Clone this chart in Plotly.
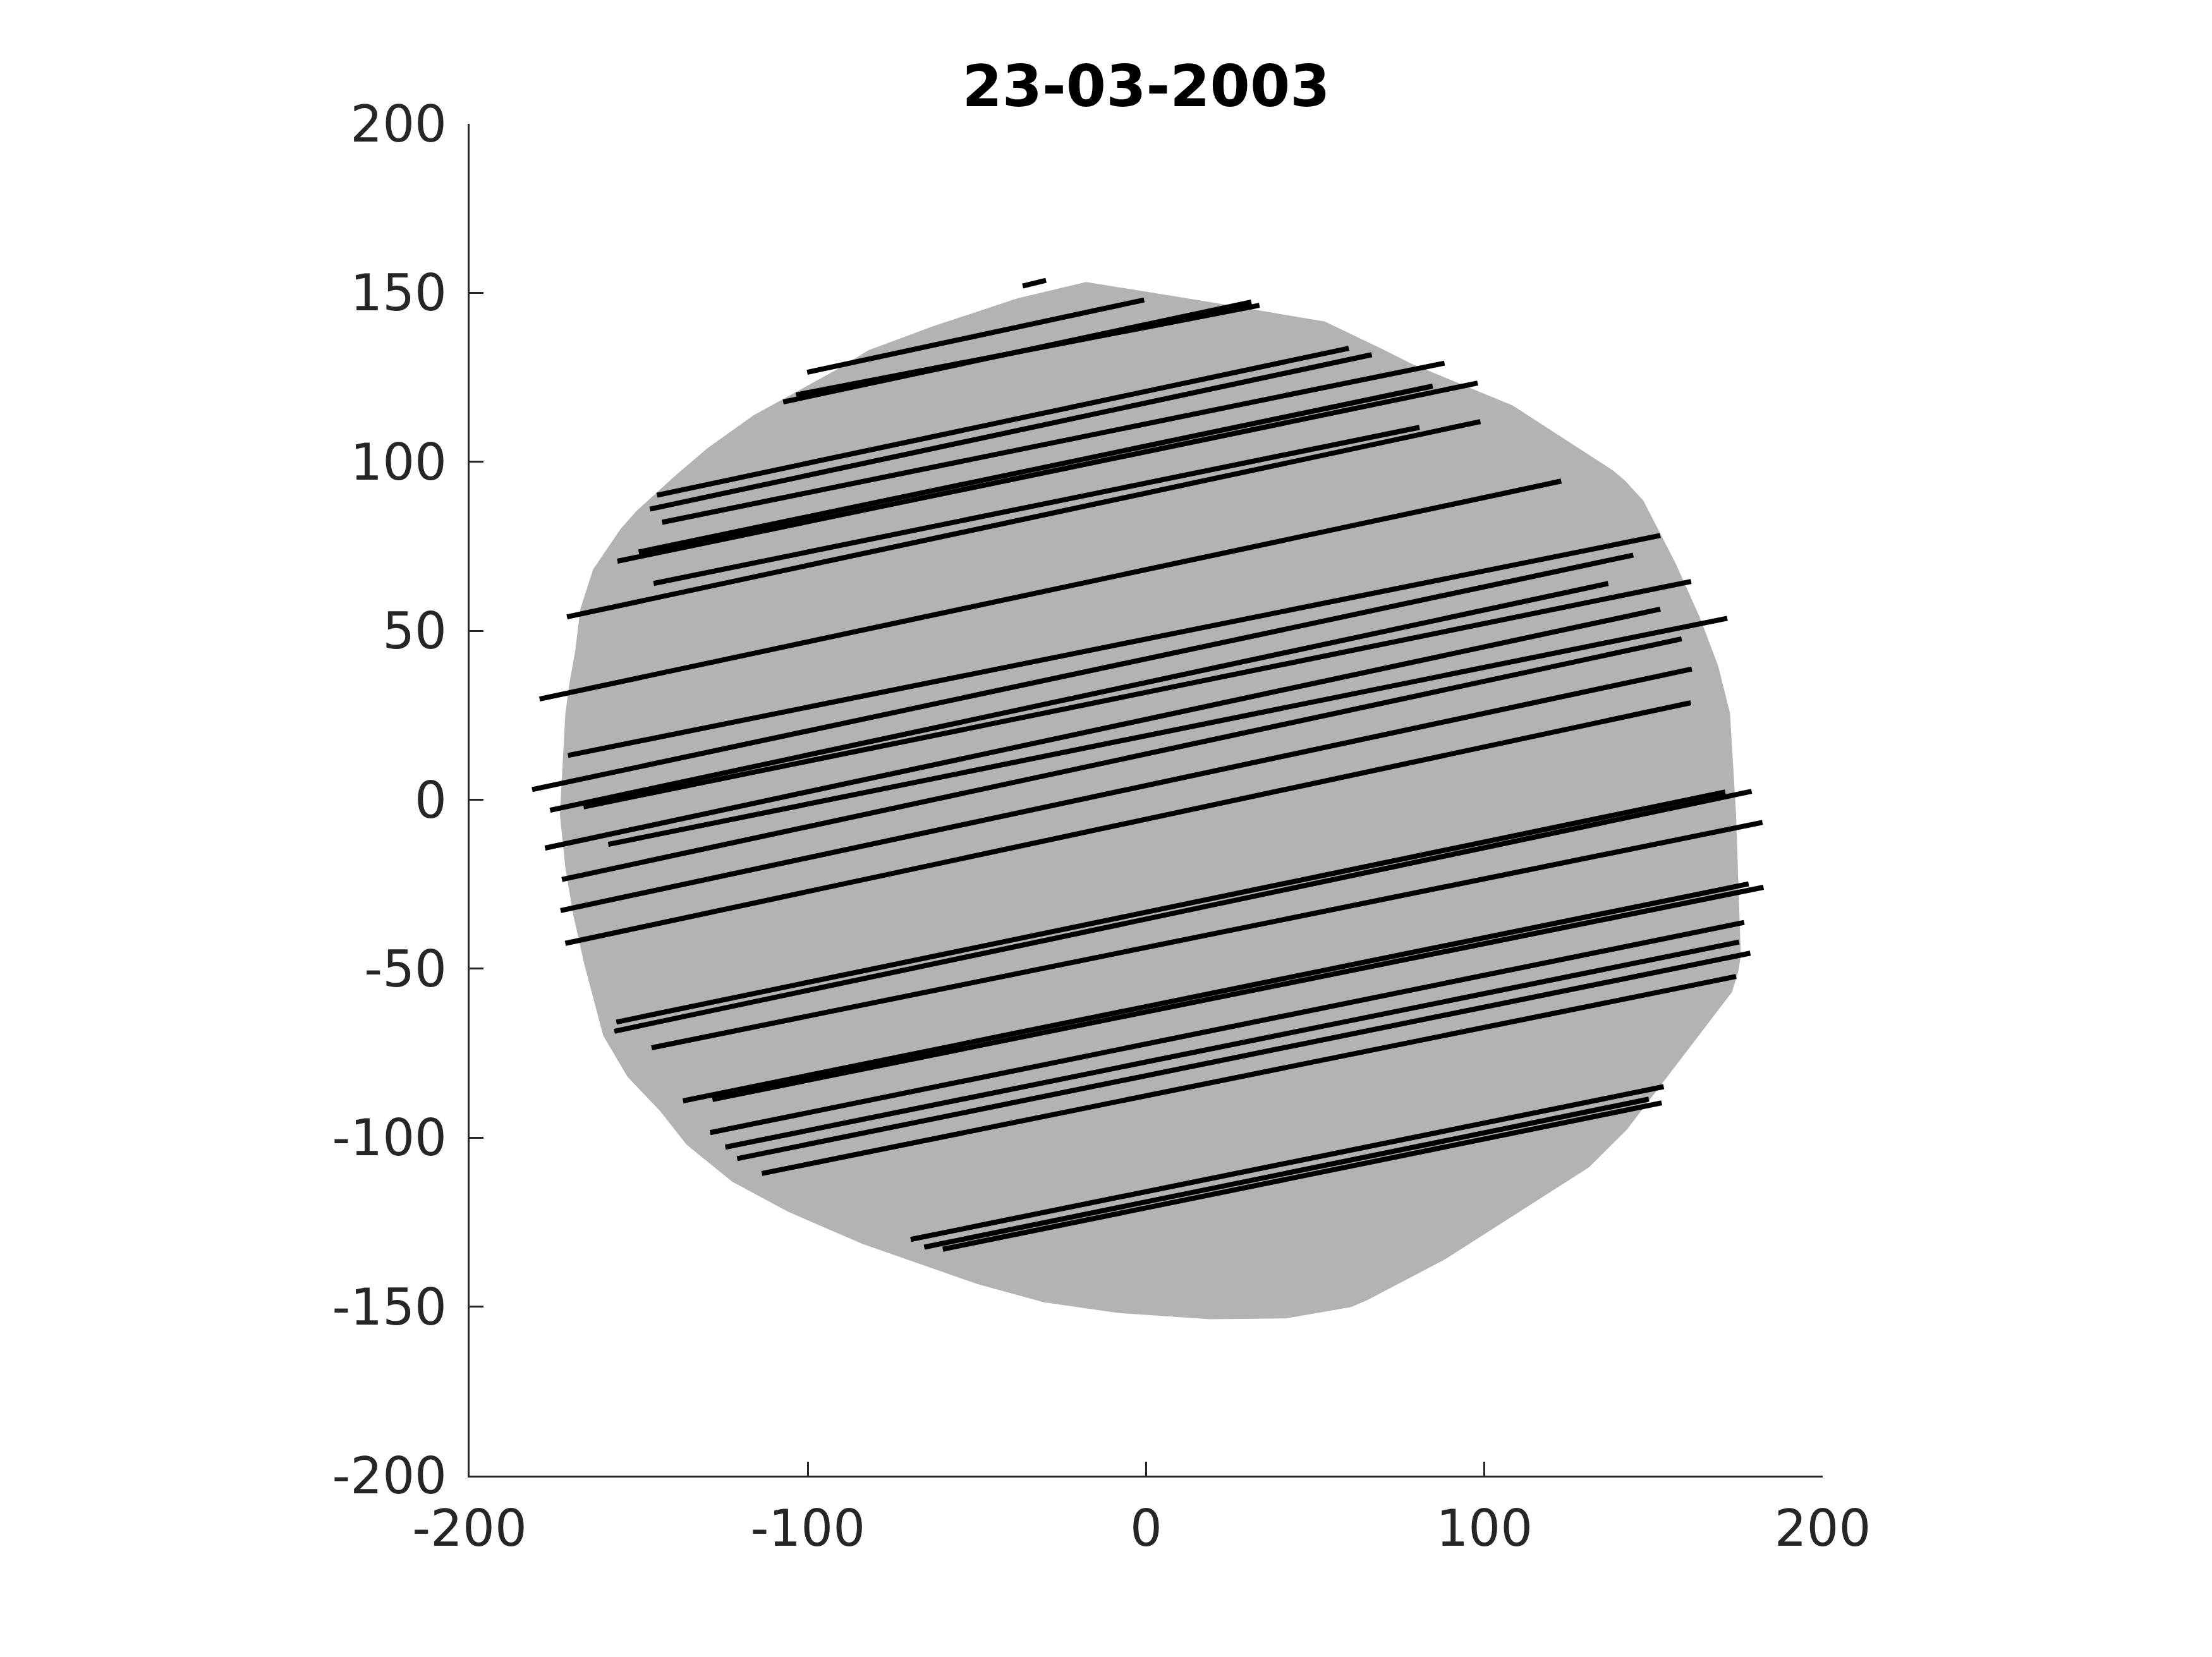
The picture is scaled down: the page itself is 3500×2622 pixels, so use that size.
import plotly.graph_objects as go

# outline of the gray area (clockwise from the top)
outline_x = [-17.7, 18.1, 52.8, 69.5, 78.5, 108.3, 138.1, 141.6, 147.0, 156.5, 163.7, 169.1, 172.6, 174.4,
             175.8, 175.0, 173.2, 142.2, 130.9, 88.0, 65.3, 60.6, 41.3, 18.9, -8.1, -30.2, -49.9, -83.9,
             -105.9, -122.4, -135.9, -143.7, -153.3, -160.5, -166.1, -169.3, -171.7, -173.3, -171.7, -170.5,
             -168.8, -167.3, -163.5, -155.4, -150.6, -139.3, -129.7, -116.0, -91.6, -82.1, -63.0, -38.0]
outline_y = [153.2, 147.4, 141.5, 133.5, 129.0, 116.7, 97.4, 94.4, 88.5, 70.0, 53.9, 39.6, 25.6, -4.5,
             -46.2, -51.0, -56.9, -97.5, -108.8, -136.2, -148.1, -150.1, -153.5, -153.7, -151.9, -148.7, -143.3, -131.4,
             -121.9, -113.0, -102.0, -92.1, -82.0, -69.8, -48.6, -34.3, -20.0, -4.5, 25.3, 34.4,
             43.8, 56.3, 68.1, 80.1, 85.5, 95.8, 104.0, 113.8, 127.2, 133.0, 140.1, 148.4]

# track segments: start and end points
track_x0 = [-36.5, -100.2, -107.3, -103.5, -144.6, -146.7, -143.1, -150.0, -156.3, -145.6, -171.2, -179.3,
            -170.9, -181.5, -176.2, -166.3, -177.7, -159.0, -172.7, -173.1, -171.7,
            -156.6, -157.2, -146.2, -136.9, -128.2, -128.9, -124.4, -120.9, -113.6, -69.6, -65.6, -60.1]
track_y0 = [152.0, 126.5, 117.7, 119.8, 90.1, 86.0, 82.1, 73.3, 70.6, 64.0, 54.1, 29.8,
            13.1, 3.0, -3.1, -2.1, -14.3, -13.2, -23.6, -32.8, -42.5,
            -65.8, -68.5, -73.4, -89.1, -88.7, -98.5, -102.8, -106.2, -110.6, -130.1, -132.4, -133.0]
track_x1 = [-29.6, -0.6, 31.1, 33.5, 59.9, 66.7, 88.2, 84.7, 98.0, 80.8, 98.8, 122.7,
            152.0, 144.0, 136.6, 161.1, 152.0, 171.8, 158.3, 161.3, 161.0,
            171.2, 179.0, 182.2, 178.1, 182.5, 176.8, 175.3, 178.6, 174.4, 153.0, 148.6, 152.4]
track_y1 = [153.7, 147.9, 147.3, 146.3, 133.6, 131.7, 129.2, 122.4, 123.3, 110.2, 111.9, 94.3,
            78.2, 72.4, 64.0, 64.6, 56.4, 53.7, 47.6, 38.7, 28.7,
            2.3, 2.5, -6.7, -24.9, -25.9, -36.3, -42.1, -45.4, -52.3, -84.9, -88.6, -89.7]

tick_vals = [-200, -150, -100, -50, 0, 50, 100, 150, 200]
tick_text = ['-200', '-150', '-100', '-50', '0', '50', '100', '150', '200']
x_tick_vals = [-200, -100, 0, 100, 200]
x_tick_text = ['-200', '-100', '0', '100', '200']

title = '23-03-2003'


def build_tracks():
    xs, ys = [], []
    for x0, y0, x1, y1 in zip(track_x0, track_y0, track_x1, track_y1):
        xs += [x0, x1, None]
        ys += [y0, y1, None]
    return xs, ys


def main():
    fig = go.Figure()
    fig.add_trace(go.Scatter(x=outline_x + outline_x[:1], y=outline_y + outline_y[:1], mode='lines',
                             fill='toself', fillcolor='#b3b3b3', line=dict(width=0), hoverinfo='skip'))
    xs, ys = build_tracks()
    fig.add_trace(go.Scatter(x=xs, y=ys, mode='lines', line=dict(color='black', width=8)))

    axis_style = dict(range=[-200, 200], showgrid=False, zeroline=False, showline=True,
                      linecolor='#262626', linewidth=3, ticks='inside', ticklen=22, tickwidth=3,
                      tickcolor='#262626', tickfont=dict(family='DejaVu Sans', size=80, color='#262626'))
    fig.update_xaxes(tickvals=x_tick_vals, ticktext=x_tick_text, ticklabelstandoff=12, **axis_style)
    fig.update_yaxes(tickvals=tick_vals, ticktext=tick_text, ticklabelstandoff=17, **axis_style)

    # page body adds 8px, so margins are shifted back by that amount
    fig.update_layout(
        width=3500, height=2622,
        margin=dict(l=735, r=624, t=188, b=295),
        plot_bgcolor='white', paper_bgcolor='white',
        showlegend=False,
        title=dict(text='<b>' + title + '</b>', x=0.5, xref='paper', xanchor='center',
                   y=1 - 128 / 2622, yref='container', yanchor='middle',
                   font=dict(family='DejaVu Sans', size=91, color='black')),
    )
    fig.write_html('out.html')


if __name__ == '__main__':
    main()
